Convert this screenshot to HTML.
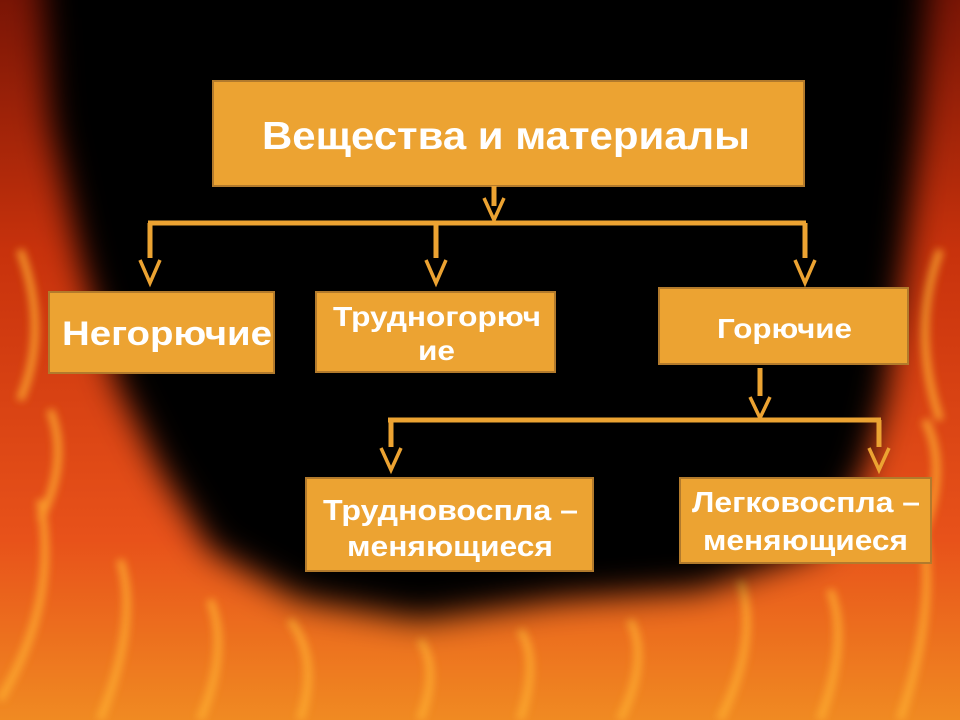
<!DOCTYPE html>
<html><head><meta charset="utf-8"><style>
html,body{margin:0;padding:0;width:960px;height:720px;overflow:hidden;background:#000}
.t{font-family:"Liberation Sans","Noto Sans CJK SC",sans-serif;font-weight:bold;fill:#fff}
</style></head><body>
<svg width="960" height="720" viewBox="0 0 960 720" xmlns="http://www.w3.org/2000/svg">
<defs>
<linearGradient id="fire" x1="0" y1="0" x2="0" y2="1">
<stop offset="0" stop-color="#7a1505"/>
<stop offset="0.35" stop-color="#c8320c"/>
<stop offset="0.75" stop-color="#e8521a"/>
<stop offset="1" stop-color="#f08a22"/>
</linearGradient>
<filter id="b" x="-20%" y="-20%" width="140%" height="140%"><feGaussianBlur stdDeviation="16"/></filter>
<filter id="b2"><feGaussianBlur stdDeviation="4"/></filter>
</defs>
<rect width="960" height="720" fill="url(#fire)"/>
<g filter="url(#b2)" opacity="0.75" stroke="#ffb030" stroke-width="8" fill="none">
<path d="M0 700 Q60 600 40 500 M100 720 Q140 620 120 560 M200 720 Q230 650 210 600 M300 720 Q320 660 290 620 M420 720 Q440 670 420 640 M520 720 Q540 660 520 630 M620 720 Q650 660 630 620 M720 720 Q760 640 740 580 M820 720 Q850 640 830 590 M900 720 Q940 600 920 520"/>
<path d="M20 400 Q50 330 20 250 M40 520 Q70 460 50 410 M940 420 Q910 330 940 250 M920 540 Q950 470 925 420"/>
</g>
<path filter="url(#b)" fill="#000" d="M40 -40 L930 -40 L920 120 L905 260 L885 400 L865 470 L820 550 L700 590 L560 600 L420 620 L300 600 L210 550 L160 470 L115 380 L80 260 L50 120 Z"/>
<g fill="#eca332" stroke="#b27a2c" stroke-width="2">
<rect x="213" y="81" width="591" height="105"/>
<rect x="49" y="292" width="225" height="81"/>
<rect x="316" y="292" width="239" height="80"/>
<rect x="659" y="288" width="249" height="76"/>
<rect x="306" y="478" width="287" height="93"/>
<rect x="680" y="478" width="251" height="85"/>
</g>
<g stroke="#eca332" stroke-width="5" fill="none">
<path d="M494 186 V206"/>
<path d="M148 223 H806"/>
<path d="M150 223 V258 M436 223 V258 M805 223 V258"/>
<path d="M760 368 V396"/>
<path d="M388 420 H881"/>
<path d="M391 420 V447 M879 420 V447"/>
</g>
<g stroke="#eca332" stroke-width="3.5" fill="none">
<path d="M484 198 L494 220 L504 198"/>
<path d="M140 260 L150 283 L160 260"/>
<path d="M426 260 L436 283 L446 260"/>
<path d="M795 260 L805 283 L815 260"/>
<path d="M750 397 L760 418 L770 397"/>
<path d="M381 448 L391 470 L401 448"/>
<path d="M869 448 L879 470 L889 448"/>
</g>
<text class="t" x="262" y="149" font-size="39" textLength="488" lengthAdjust="spacingAndGlyphs">Вещества и материалы</text>
<text class="t" x="62" y="345" font-size="34" textLength="210" lengthAdjust="spacingAndGlyphs">Негорючие</text>
<text class="t" x="333" y="326" font-size="28" textLength="208" lengthAdjust="spacingAndGlyphs">Трудногорюч</text>
<text class="t" x="418" y="360" font-size="28" textLength="37" lengthAdjust="spacingAndGlyphs">ие</text>
<text class="t" x="717" y="338" font-size="28" textLength="135" lengthAdjust="spacingAndGlyphs">Горючие</text>
<text class="t" x="323" y="520" font-size="29" textLength="255" lengthAdjust="spacingAndGlyphs">Трудновоспла –</text>
<text class="t" x="347" y="556" font-size="29" textLength="206" lengthAdjust="spacingAndGlyphs">меняющиеся</text>
<text class="t" x="692" y="512" font-size="29" textLength="228" lengthAdjust="spacingAndGlyphs">Легковоспла –</text>
<text class="t" x="703" y="550" font-size="29" textLength="205" lengthAdjust="spacingAndGlyphs">меняющиеся</text>
</svg>
</body></html>
